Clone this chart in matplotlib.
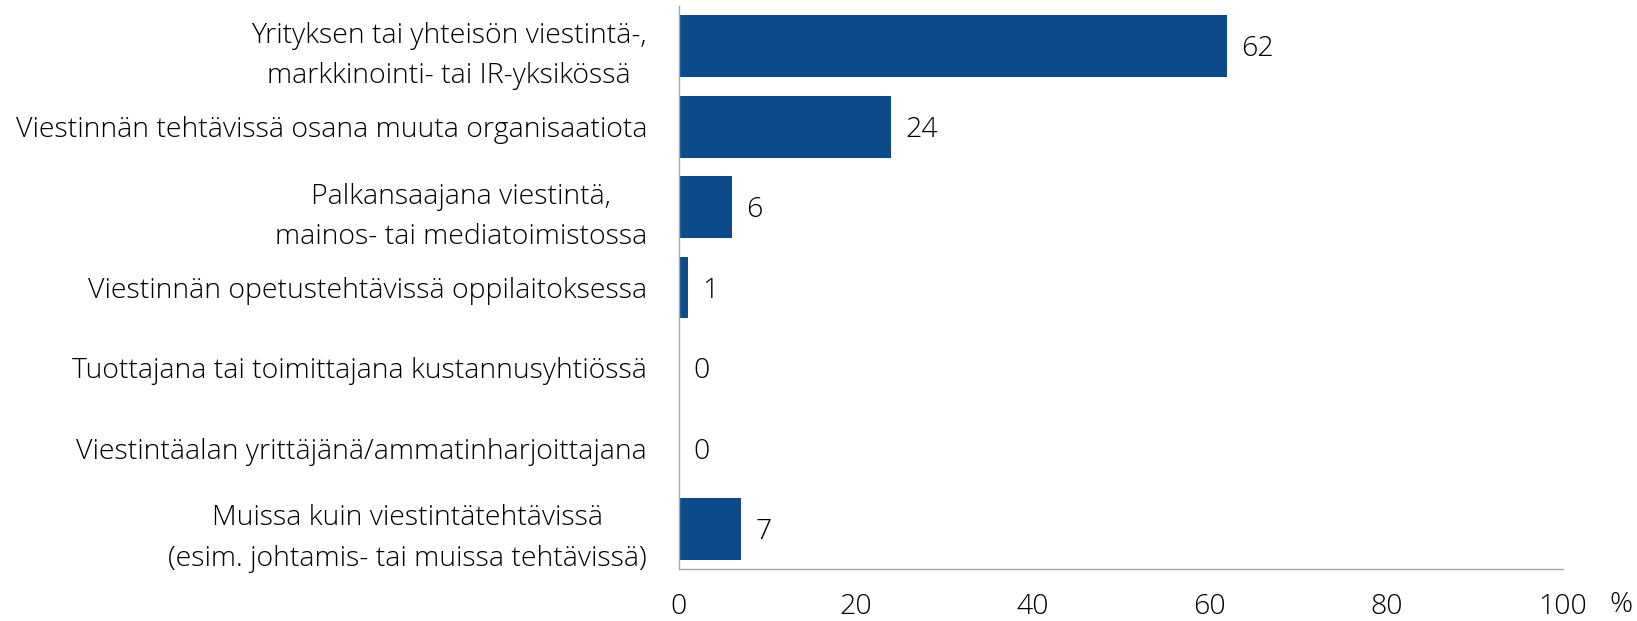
import matplotlib
matplotlib.use("Agg")
import matplotlib.pyplot as plt

categories = [
    "Yrityksen tai yhteisön viestintä-,\nmarkkinointi- tai IR-yksikössä",
    "Viestinnän tehtävissä osana muuta organisaatiota",
    "Palkansaajana viestintä,\nmainos- tai mediatoimistossa",
    "Viestinnän opetustehtävissä oppilaitoksessa",
    "Tuottajana tai toimittajana kustannusyhtiössä",
    "Viestintäalan yrittäjänä/ammatinharjoittajana",
    "Muissa kuin viestintätehtävissä\n(esim. johtamis- tai muissa tehtävissä)",
]
values = [62, 24, 6, 1, 0, 0, 7]
xticks = [0, 20, 40, 60, 80, 100]

plt.rcParams['font.family'] = ['Open Sans', 'DejaVu Sans']
FS = 20.5
W = 'light'
TC = '#000000'

fig = plt.figure(figsize=(16.37, 6.21), dpi=100)
ax = fig.add_axes([679/1637, 1-569/621, (1563-679)/1637, (569-6)/621])

ypos = list(range(len(categories)))
ax.barh(ypos, values, height=0.77, color='#0D4A8B')
ax.set_ylim(len(categories)-0.5, -0.5)
ax.set_xlim(0, 100)

for y, v in zip(ypos, values):
    ax.text(v + 1.6, y + 0.04, str(v), va='center', ha='left', fontsize=FS, fontweight=W, color=TC)

ax.set_yticks(ypos)
ax.set_yticklabels(categories, fontsize=FS, fontweight=W, color=TC)
for lbl in ax.get_yticklabels():
    lbl.set_multialignment('center')
    lbl.set_linespacing(1.6)
ax.tick_params(axis='y', length=0, pad=23)

ax.set_xticks(xticks)
ax.set_xticklabels([str(t) for t in xticks], fontsize=FS, fontweight=W, color=TC)
ax.tick_params(axis='x', length=0, pad=17)

ax.text(1621/1637, 1-605/621, "%", transform=fig.transFigure, ha='center', va='center',
        fontsize=FS, fontweight=W, color=TC)

for s in ['top', 'right']:
    ax.spines[s].set_visible(False)
for s in ['left', 'bottom']:
    ax.spines[s].set_color('#A6A6A6')
    ax.spines[s].set_linewidth(1.0)

fig.savefig("out.png", dpi=100)
